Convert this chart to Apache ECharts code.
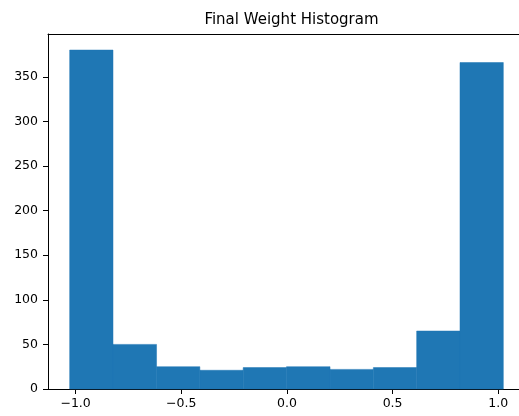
<!DOCTYPE html>
<html>
<head>
<meta charset="utf-8">
<script src="https://cdn.jsdelivr.net/npm/echarts@6/dist/echarts.min.js"></script>
<style>
html,body{margin:0;padding:0;background:#fff;overflow:hidden;width:519px;height:416px;}
#chart{width:560px;height:416px;}
</style>
</head>
<body>
<div id="chart"></div>
<script>
// Histogram data
const binEdges = [-1.028, -0.823, -0.617, -0.412, -0.207, -0.002, 0.204, 0.409, 0.614, 0.819, 1.024];
const counts = [380, 50, 25, 21, 24, 25, 22, 24, 65, 366];
const xTicks = [-1.0, -0.5, 0.0, 0.5, 1.0];
const yTicks = [0, 50, 100, 150, 200, 250, 300, 350];
const titleText = 'Final Weight Histogram';

const data = counts.map((c, i) => [binEdges[i], binEdges[i + 1], c]);
const fmt = v => (v < 0 ? '\u2212' : '') + Math.abs(v).toFixed(1);
const font = 'DejaVu Sans';
const xMin = -1.1306, xMax = 1.1266;

const chart = echarts.init(document.getElementById('chart'), null, {renderer: 'canvas'});
chart.setOption({
  animation: false,
  backgroundColor: '#fff',
  title: {
    text: titleText,
    left: 286.5,
    textAlign: 'center',
    top: 8,
    textStyle: {fontFamily: font, fontSize: 15, fontWeight: 'normal', color: '#000'}
  },
  grid: {
    left: 48, top: 34, width: 477, height: 355,
    show: false
  },
  xAxis: [{
    type: 'value',
    min: xMin, max: xMax,
    axisLine: {show: true, onZero: false, lineStyle: {color: '#000', width: 1}},
    splitLine: {show: false},
    axisTick: {show: true, length: 5, lineStyle: {color: '#000'}, customValues: xTicks},
    axisLabel: {
      customValues: xTicks, formatter: fmt, margin: 8,
      fontFamily: font, fontSize: 12.5, color: '#000'
    }
  }, {
    type: 'value',
    position: 'top',
    min: xMin, max: xMax,
    axisLine: {show: true, onZero: false, lineStyle: {color: '#000', width: 1}},
    splitLine: {show: false},
    axisTick: {show: false},
    axisLabel: {show: false}
  }],
  yAxis: {
    type: 'value',
    min: 0, max: 398,
    axisLine: {show: true, onZero: false, lineStyle: {color: '#000', width: 1}},
    splitLine: {show: false},
    axisTick: {show: true, length: 5, lineStyle: {color: '#000'}, customValues: yTicks},
    axisLabel: {
      customValues: yTicks, margin: 10,
      fontFamily: font, fontSize: 12.5, color: '#000'
    }
  },
  series: [{
    type: 'custom',
    data: data,
    encode: {x: [0, 1], y: 2},
    renderItem: function (params, api) {
      const p0 = api.coord([api.value(0), 0]);
      const p1 = api.coord([api.value(1), api.value(2)]);
      return {
        type: 'rect',
        shape: {x: p0[0], y: p1[1], width: p1[0] - p0[0], height: p0[1] - p1[1]},
        style: {fill: '#1f77b4', stroke: '#1f77b4', lineWidth: 0.5}
      };
    }
  }]
});
</script>
</body>
</html>
